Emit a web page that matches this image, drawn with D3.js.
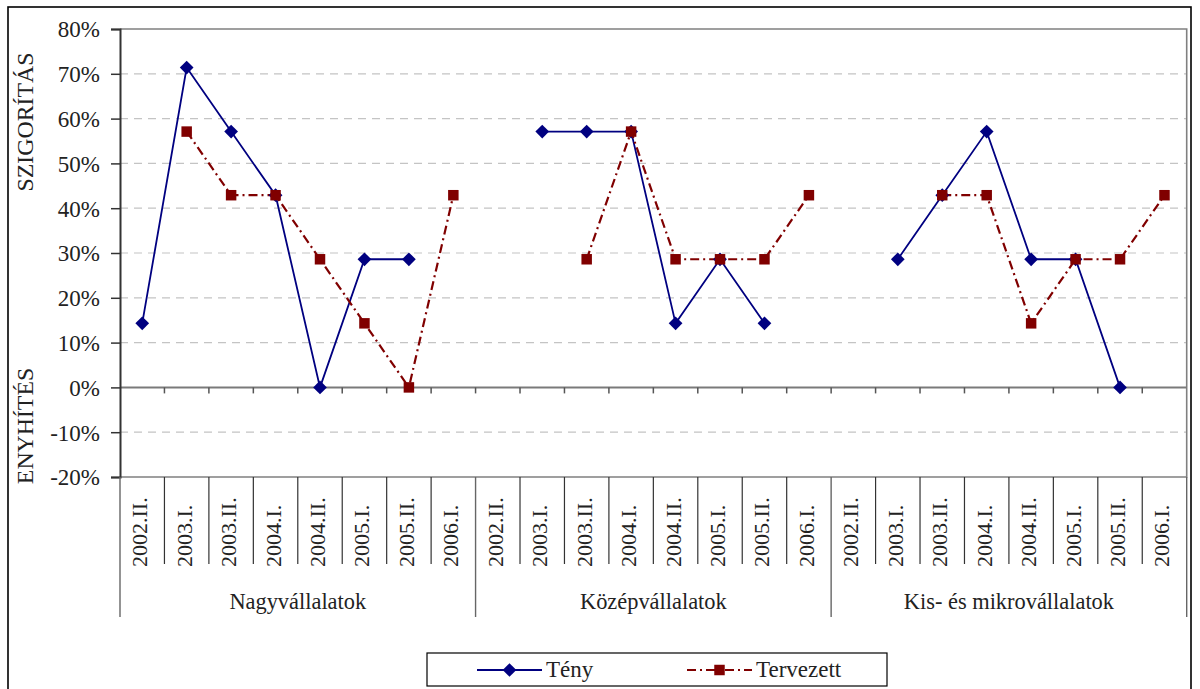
<!DOCTYPE html>
<html>
<head>
<meta charset="utf-8">
<script src="https://cdn.jsdelivr.net/npm/d3@7/dist/d3.min.js"></script>
<style>
  html, body { margin: 0; padding: 0; background: #fff; }
</style>
</head>
<body>
<svg id="chart" width="1200" height="689"></svg>
<script>
// Time periods repeated within each company-size group
const periods = ["2002.II.", "2003.I.", "2003.II.", "2004.I.", "2004.II.", "2005.I.", "2005.II.", "2006.I."];
const groups = ["Nagyvállalatok", "Középvállalatok", "Kis- és mikrovállalatok"];

// Share of banks (%) – actual values per group
const tenyValues = [
  [14.3, 71.4, 57.1, 42.9, 0, 28.6, 28.6, null],
  [null, 57.1, 57.1, 57.1, 14.3, 28.6, 14.3, null],
  [null, 28.6, 42.9, 57.1, 28.6, 28.6, 0, null]
];
// Share of banks (%) – planned values per group
const tervezettValues = [
  [null, 57.1, 42.9, 42.9, 28.6, 14.3, 0, 42.9],
  [null, null, 28.6, 57.1, 28.6, 28.6, 28.6, 42.9],
  [null, null, 42.9, 42.9, 14.3, 28.6, 28.6, 42.9]
];
const yTicks = [-20, -10, 0, 10, 20, 30, 40, 50, 60, 70, 80];
const seriesNames = ["Tény", "Tervezett"];

const SERIF = '"Liberation Serif"';
const svg = d3.select("#chart");
const plotLeft = 120, plotRight = 1186.7, plotTop = 29, plotBottom = 477;

// apply serif type at a given pixel size
const font = (sel, px) => sel
  .style("font-family", SERIF).style("font-size", px + "px")
  .attr("font-family", "Liberation Serif").attr("font-size", px);

// flattened category keys
const keys = [];
groups.forEach((g, gi) => periods.forEach((p, pi) => keys.push(gi + "|" + pi)));

const x = d3.scaleBand().domain(keys).range([plotLeft, plotRight]).padding(0);
const y = d3.scaleLinear().domain([-20, 80]).range([plotBottom, plotTop]);

// outer frame
svg.append("rect")
  .attr("x", 8).attr("y", 7).attr("width", 1183).attr("height", 720)
  .attr("fill", "none").attr("stroke", "#000").attr("stroke-width", 1.6);

// horizontal gridlines
svg.append("g").selectAll("line")
  .data(yTicks.filter(t => t !== 0 && t !== 80 && t !== -20))
  .join("line")
  .attr("x1", plotLeft).attr("x2", plotRight)
  .attr("y1", d => y(d)).attr("y2", d => y(d))
  .attr("stroke", "#c4c4c4").attr("stroke-width", 1.2)
  .attr("stroke-dasharray", "8,6");

// plot area border (top, right, bottom)
svg.append("path")
  .attr("d", `M${plotLeft},${y(80)}H${plotRight}V${y(-20)}H${plotLeft}`)
  .attr("fill", "none").attr("stroke", "#808080").attr("stroke-width", 1.6);

// zero line with category ticks
svg.append("line")
  .attr("x1", plotLeft).attr("x2", plotRight).attr("y1", y(0)).attr("y2", y(0))
  .attr("stroke", "#7a7a7a").attr("stroke-width", 2);
svg.append("g").selectAll("line")
  .data(keys.slice(1))
  .join("line")
  .attr("x1", d => x(d)).attr("x2", d => x(d))
  .attr("y1", y(0)).attr("y2", y(0) + 6)
  .attr("stroke", "#555").attr("stroke-width", 1.5);

// y axis
const yAxis = d3.axisLeft(y).tickValues(yTicks).tickSize(9).tickFormat(d => d + "%");
const ya = svg.append("g").attr("transform", `translate(${plotLeft},0)`).call(yAxis)
  .attr("font-family", "Liberation Serif").attr("font-size", 23);
ya.select(".domain").attr("stroke", "#333").attr("stroke-width", 2);
ya.selectAll(".tick line").attr("stroke", "#333").attr("stroke-width", 1.5);
ya.selectAll(".tick text")
  .attr("x", -20).attr("dy", "0.34em").attr("fill", "#222")
  .call(font, 23);

// axis titles
svg.append("text")
  .attr("transform", `translate(33,122) rotate(-90)`)
  .attr("text-anchor", "middle").attr("fill", "#222")
  .call(font, 23.8)
  .text("SZIGORÍTÁS");
svg.append("text")
  .attr("transform", `translate(33,426) rotate(-90)`)
  .attr("text-anchor", "middle").attr("fill", "#222")
  .call(font, 23.8)
  .text("ENYHÍTÉS");

// category table below the plot
const bw = x.bandwidth();
const tbl = svg.append("g");
tbl.selectAll("line.cat")
  .data(keys.filter((k, i) => i % 8 !== 0))
  .join("line").attr("class", "cat")
  .attr("x1", d => x(d)).attr("x2", d => x(d))
  .attr("y1", plotBottom).attr("y2", 564)
  .attr("stroke", "#333").attr("stroke-width", 1.2);
tbl.selectAll("line.grp")
  .data(d3.range(groups.length + 1))
  .join("line").attr("class", "grp")
  .attr("x1", i => i < groups.length ? x(i + "|0") : plotRight)
  .attr("x2", i => i < groups.length ? x(i + "|0") : plotRight)
  .attr("y1", plotBottom).attr("y2", 617)
  .attr("stroke", "#666").attr("stroke-width", 1.4);

tbl.selectAll("text.cat")
  .data(keys)
  .join("text").attr("class", "cat")
  .attr("transform", d => `translate(${x(d) + bw / 2 + 5},567) rotate(-90)`)
  .attr("text-anchor", "start").attr("fill", "#222")
  .call(font, 22)
  .text(d => periods[+d.split("|")[1]]);

tbl.selectAll("text.grp")
  .data(groups)
  .join("text").attr("class", "grp")
  .attr("x", (g, i) => (x(i + "|0") + x(i + "|7") + bw) / 2)
  .attr("y", 609)
  .attr("text-anchor", "middle").attr("fill", "#222")
  .call(font, 22.4)
  .text(d => d);

// series lines and markers
const tenyFlat = tenyValues.flat();
const tervFlat = tervezettValues.flat();
const cx = i => x(keys[i]) + bw / 2;
const line = d3.line()
  .defined(d => d !== null)
  .x((d, i) => cx(i))
  .y(d => y(d));

svg.append("path")
  .datum(tenyFlat)
  .attr("d", line)
  .attr("fill", "none").attr("stroke", "#000080").attr("stroke-width", 1.8);

svg.append("path")
  .datum(tervFlat)
  .attr("d", line)
  .attr("fill", "none").attr("stroke", "#800000").attr("stroke-width", 2.2)
  .attr("stroke-dasharray", "9,4,2,4");

const diamond = d3.symbol().type(d3.symbolDiamond2).size(120);
const square = d3.symbol().type(d3.symbolSquare).size(110);

svg.append("g").selectAll("path")
  .data(tenyFlat.map((v, i) => ({ v, i })).filter(d => d.v !== null))
  .join("path")
  .attr("transform", d => `translate(${cx(d.i)},${y(d.v)})`)
  .attr("d", diamond).attr("fill", "#000080");

svg.append("g").selectAll("path")
  .data(tervFlat.map((v, i) => ({ v, i })).filter(d => d.v !== null))
  .join("path")
  .attr("transform", d => `translate(${cx(d.i)},${y(d.v)})`)
  .attr("d", square).attr("fill", "#800000");

// legend
const lg = svg.append("g");
lg.append("rect")
  .attr("x", 427).attr("y", 653).attr("width", 460).attr("height", 33)
  .attr("fill", "#fff").attr("stroke", "#000").attr("stroke-width", 1.2);
const legendItems = [
  { name: seriesNames[0], x1: 477, x2: 542, color: "#000080", dash: null, sym: diamond, width: 1.8 },
  { name: seriesNames[1], x1: 687, x2: 752, color: "#800000", dash: "9,4,2,4", sym: square, width: 2.2 }
];
legendItems.forEach(it => {
  lg.append("line")
    .attr("x1", it.x1).attr("x2", it.x2).attr("y1", 670).attr("y2", 670)
    .attr("stroke", it.color).attr("stroke-width", it.width)
    .attr("stroke-dasharray", it.dash);
  lg.append("path")
    .attr("transform", `translate(${(it.x1 + it.x2) / 2},670)`)
    .attr("d", it.sym).attr("fill", it.color);
  lg.append("text")
    .attr("x", it.x2 + 4).attr("y", 677).attr("fill", "#222")
    .call(font, 23)
    .text(it.name);
});
</script>
</body>
</html>
